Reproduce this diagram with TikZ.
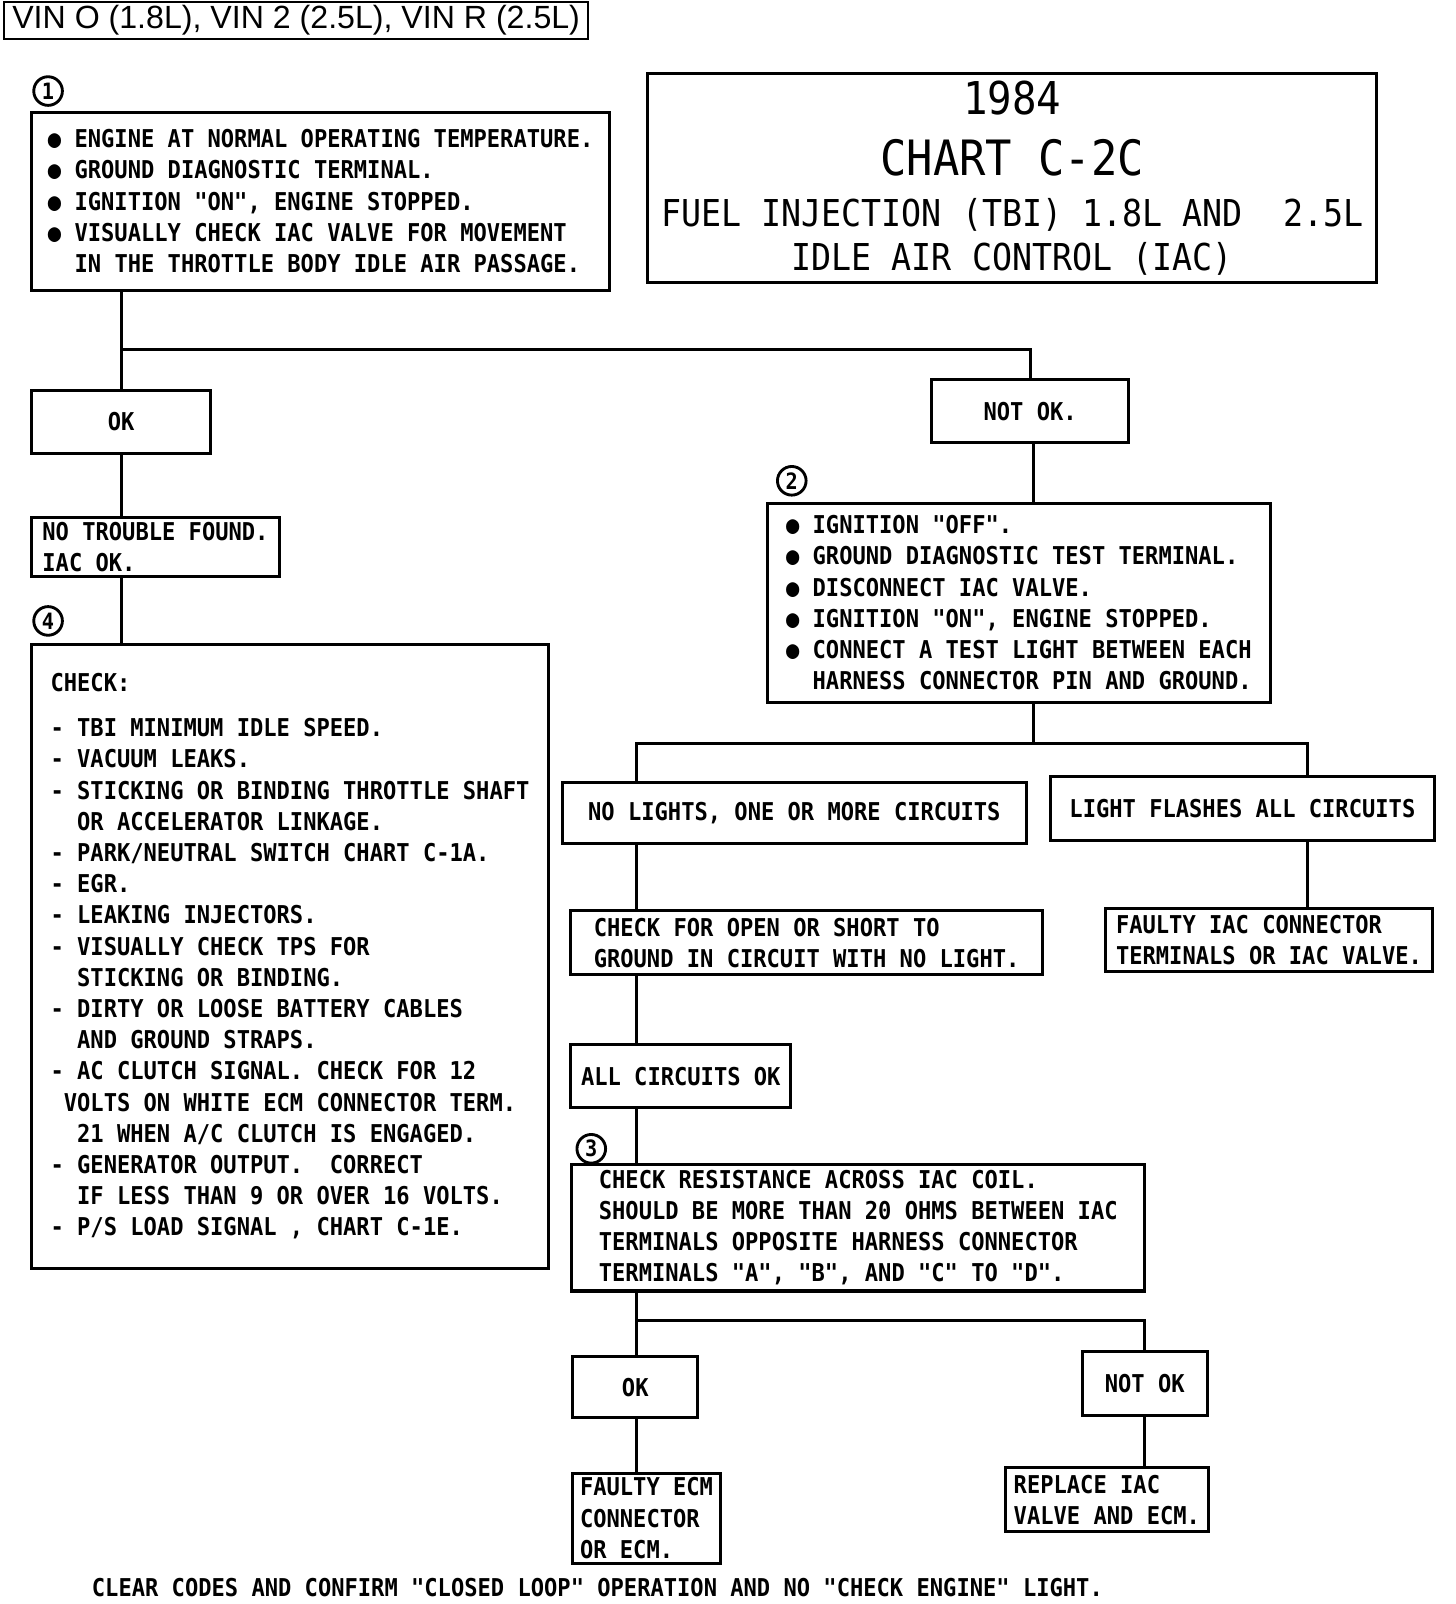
\documentclass[tikz,border=0pt]{standalone}
\usepackage{fontspec}
\setmainfont[FakeStretch=0.9]{DejaVu Sans Mono}
\setmonofont[FakeStretch=0.9]{DejaVu Sans Mono}
\newfontfamily\vinfont{Liberation Sans}
\usetikzlibrary{positioning}

\newcommand\chartfont{\ttfamily\fontsize{12}{15.25}\selectfont\bfseries}

\begin{document}
\begin{tikzpicture}[x=0.5pt, y=-0.5pt,
		box/.style={draw, line width=1.5pt, inner sep=0pt, align=left, font=\chartfont},
		link/.style={line width=1.5pt},
		stepno/.style={draw, circle, line width=1.4pt, minimum size=14pt, inner sep=0pt, font=\ttfamily\fontsize{11}{11}\selectfont\bfseries}
		]
		\useasboundingbox (0,0) rectangle (1423,1568);
		
		% Header
		\node[draw, line width=0.8pt, inner sep=0pt, minimum width=285.5pt, minimum height=18pt, font=\vinfont\fontsize{15.7}{18}\selectfont] (vin) at (289.5,20) {VIN O (1.8L), VIN 2 (2.5L), VIN R (2.5L)};
		\node[draw, line width=1.5pt, inner sep=0pt, minimum width=356.5pt, minimum height=102pt, align=center, font=\ttfamily\fontsize{18.1}{21.5}\selectfont] (title) at (989.5,174)
		{{\fontsize{22.1}{22}\selectfont 1984}\\[8.5pt]
			{\fontsize{23.8}{24}\selectfont CHART C-2C}\\[3.5pt]
			FUEL INJECTION (TBI) 1.8L AND \ 2.5L\\
			IDLE AIR CONTROL (IAC)};
		
		% Step numbers
		\node[stepno] (n1) at (47,89) {1};
		\node[stepno] (n4) at (47,607) {4};
		\node[stepno] (n2) at (774,470) {2};
		\node[stepno] (n3) at (578,1123) {3};
		
		% Left branch
		\node[box, minimum width=282.5pt, minimum height=87pt] (b1) at (313.5,197)
		{● ENGINE AT NORMAL OPERATING TEMPERATURE.\\
			● GROUND DIAGNOSTIC TERMINAL.\\
			● IGNITION "ON", ENGINE STOPPED.\\
			● VISUALLY CHECK IAC VALVE FOR MOVEMENT\\
			\phantom{● }IN THE THROTTLE BODY IDLE AIR PASSAGE.};
		\node[box, align=center, minimum width=87.5pt, minimum height=30.5pt] (ok) at (118.5,412.5) {OK};
		\node[box, minimum width=121pt, minimum height=29pt] (ntf) at (152,535) {NO TROUBLE FOUND.\\IAC OK.};
		\node[box, minimum width=252.5pt, minimum height=305pt] (check) at (283.5,935)
		{CHECK:\\[6.7pt]
			- TBI MINIMUM IDLE SPEED.\\
			- VACUUM LEAKS.\\
			- STICKING OR BINDING THROTTLE SHAFT\\
			\phantom{- }OR ACCELERATOR LINKAGE.\\
			- PARK/NEUTRAL SWITCH CHART C-1A.\\
			- EGR.\\
			- LEAKING INJECTORS.\\
			- VISUALLY CHECK TPS FOR\\
			\phantom{- }STICKING OR BINDING.\\
			- DIRTY OR LOOSE BATTERY CABLES\\
			\phantom{- }AND GROUND STRAPS.\\
			- AC CLUTCH SIGNAL. CHECK FOR 12\\
			\phantom{-}VOLTS ON WHITE ECM CONNECTOR TERM.\\
			\phantom{- }21 WHEN A/C CLUTCH IS ENGAGED.\\
			- GENERATOR OUTPUT. \ CORRECT\\
			\phantom{- }IF LESS THAN 9 OR OVER 16 VOLTS.\\
			- P/S LOAD SIGNAL , CHART C-1E.};
		
		% Right branch
		\node[box, align=center, minimum width=96pt, minimum height=31pt] (notok) at (1007,402) {NOT OK.};
		\node[box, minimum width=246pt, minimum height=97.5pt] (b2) at (996,589.5)
		{● IGNITION "OFF".\\
			● GROUND DIAGNOSTIC TEST TERMINAL.\\
			● DISCONNECT IAC VALVE.\\
			● IGNITION "ON", ENGINE STOPPED.\\
			● CONNECT A TEST LIGHT BETWEEN EACH\\
			\phantom{● }HARNESS CONNECTOR PIN AND GROUND.};
		\node[box, align=center, minimum width=226.5pt, minimum height=30pt] (nolight) at (776.5,795) {NO LIGHTS, ONE OR MORE CIRCUITS};
		\node[box, align=center, minimum width=187.5pt, minimum height=31.5pt] (flash) at (1214.5,790.5) {LIGHT FLASHES ALL CIRCUITS};
		\node[box, minimum width=230.5pt, minimum height=31.5pt] (chkopen) at (788.5,921.5) {CHECK FOR OPEN OR SHORT TO\\GROUND IN CIRCUIT WITH NO LIGHT.};
		\node[box, minimum width=159.5pt, minimum height=31pt] (faultyiac) at (1240.5,919) {FAULTY IAC CONNECTOR\\TERMINALS OR IAC VALVE.};
		\node[box, align=center, minimum width=107.5pt, minimum height=31pt] (allok) at (665.5,1052) {ALL CIRCUITS OK};
		\node[box, minimum width=280pt, minimum height=62pt] (b3) at (839,1200)
		{CHECK RESISTANCE ACROSS IAC COIL.\\
			SHOULD BE MORE THAN 20 OHMS BETWEEN IAC\\
			TERMINALS OPPOSITE HARNESS CONNECTOR\\
			TERMINALS "A", "B", AND "C" TO "D".};
		\node[box, align=center, minimum width=61pt, minimum height=30pt] (ok2) at (621,1356) {OK};
		\node[box, align=center, minimum width=61pt, minimum height=31.5pt] (notok2) at (1119,1352.5) {NOT OK};
		\node[box, minimum width=72pt, minimum height=44pt] (ecm) at (632,1484) {FAULTY ECM\\CONNECTOR\\OR ECM.};
		\node[box, minimum width=99pt, minimum height=31pt] (replace) at (1082,1466) {REPLACE IAC\\VALVE AND ECM.};
		
		% Footer
		\node[font=\chartfont, inner sep=0pt] (footer) at (584,1552) {CLEAR CODES AND CONFIRM "CLOSED LOOP" OPERATION AND NO "CHECK ENGINE" LIGHT.};
		
		% Split points
		\coordinate (sp1) at (118.5,342);
		\coordinate (sp2) at (1010,727);
		\coordinate (colL) at (622,727);
		\coordinate (colR) at (1278,727);
		\coordinate (sp3) at (622,1291);
		
		% Connectors
		\draw[link] (b1.south -| ok.north) -- (ok.north);
		\draw[link] (sp1) -| (notok.north);
		\draw[link] (ok.south) -- (ntf.north -| ok.south);
		\draw[link] (ntf.south -| ok.south) -- (check.north -| ok.south);
		\draw[link] (notok.south -| sp2) -- (b2.north -| sp2);
		\draw[link] (b2.south -| sp2) -- (sp2);
		\draw[link] (nolight.north -| colL) -- (colL) -- (colR) -- (flash.north -| colR);
		\draw[link] (nolight.south -| colL) -- (chkopen.north -| colL);
		\draw[link] (flash.south -| colR) -- (faultyiac.north -| colR);
		\draw[link] (chkopen.south -| colL) -- (allok.north -| colL);
		\draw[link] (allok.south -| colL) -- (b3.north -| colL);
		\draw[link] (b3.south -| colL) -- (ok2.north -| colL);
		\draw[link] (sp3) -| (notok2.north);
		\draw[link] (ok2.south -| colL) -- (ecm.north -| colL);
		\draw[link] (notok2.south) -- (replace.north -| notok2.south);
		
	\end{tikzpicture}
\end{document}
